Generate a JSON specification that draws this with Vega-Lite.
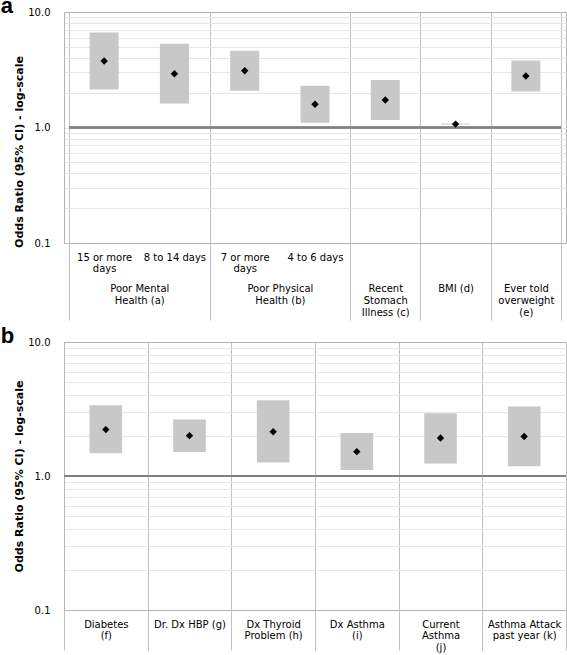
{
  "$schema": "https://vega.github.io/schema/vega-lite/v6.json",
  "padding": {"left": 0, "top": -6, "right": 0, "bottom": 0},
  "spacing": 3,
  "config": {
    "view": {"stroke": "#b4b4b4"},
    "font": "DejaVu Sans",
    "axis": {"labelFont": "DejaVu Sans", "labelFontSize": 10, "labelColor": "#000", "titleFont": "DejaVu Sans", "titleColor": "#000"}
  },
  "datasets": {
    "a": [
      {"order": 1, "group": "Poor Mental Health (a)", "sub": "15 or more days", "or": 3.76, "lo": 2.13, "hi": 6.63},
      {"order": 2, "group": "Poor Mental Health (a)", "sub": "8 to 14 days", "or": 2.92, "lo": 1.61, "hi": 5.30},
      {"order": 3, "group": "Poor Physical Health (b)", "sub": "7 or more days", "or": 3.10, "lo": 2.08, "hi": 4.61},
      {"order": 4, "group": "Poor Physical Health (b)", "sub": "4 to 6 days", "or": 1.59, "lo": 1.10, "hi": 2.30},
      {"order": 5, "group": "Recent Stomach Illness (c)", "sub": "", "or": 1.73, "lo": 1.16, "hi": 2.58},
      {"order": 6, "group": "BMI (d)", "sub": "", "or": 1.07, "lo": 1.062, "hi": 1.082},
      {"order": 7, "group": "Ever told overweight (e)", "sub": "", "or": 2.79, "lo": 2.05, "hi": 3.80}
    ],
    "b": [
      {"label": "Diabetes\n(f)", "or": 2.22, "lo": 1.48, "hi": 3.37},
      {"label": "Dr. Dx HBP (g)", "or": 2.00, "lo": 1.51, "hi": 2.64},
      {"label": "Dx Thyroid\nProblem (h)", "or": 2.14, "lo": 1.26, "hi": 3.67},
      {"label": "Dx Asthma\n(i)", "or": 1.52, "lo": 1.11, "hi": 2.09},
      {"label": "Current\nAsthma\n(j)", "or": 1.92, "lo": 1.24, "hi": 2.94},
      {"label": "Asthma Attack\npast year (k)", "or": 1.97, "lo": 1.18, "hi": 3.30}
    ]
  },
  "vconcat": [
    {
      "title": {"text": "a", "anchor": "start", "frame": "bounds", "font": "Liberation Sans", "fontSize": 22, "fontWeight": "bold", "color": "#000", "offset": -22, "baseline": "alphabetic", "dx": -13, "dy": 6},
      "width": 502,
      "height": 231,
      "data": {"name": "a"},
      "resolve": {"axis": {"x": "independent"}},
      "layer": [
        {
          "mark": {"type": "bar", "width": 29, "color": "#c8c8c8"},
          "encoding": {
            "x": {"field": "order", "type": "quantitative",
              "scale": {"domain": [0.5, 7.5], "nice": false, "zero": false},
              "axis": {"orient": "bottom", "values": [0.5, 2.5, 4.5, 5.5, 6.5, 7.5], "labels": false, "domain": false, "ticks": true, "tickSize": 77, "tickColor": "#c0c0c0", "grid": true, "gridColor": "#c0c0c0", "title": null}},
            "y": {"field": "lo", "type": "quantitative",
              "scale": {"type": "log", "domain": [0.1, 10], "nice": false},
              "axis": {"values": [0.1, 0.2, 0.3, 0.4, 0.5, 0.6, 0.7, 0.8, 0.9, 1, 2, 3, 4, 5, 6, 7, 8, 9, 10],
                "labelExpr": "datum.value == 0.1 || datum.value == 1 || datum.value == 10 ? format(datum.value, '.1f') : ''",
                "labelOverlap": false, "ticks": false, "domainColor": "#b4b4b4", "labelPadding": 14,
                "gridColor": "#e6e6e6",
                "gridOpacity": {"condition": {"test": "datum.value == 10 || datum.value == 0.1", "value": 0}, "value": 1},
                "title": "Odds Ratio (95% CI) - log-scale", "titleFontSize": 11, "titleFontWeight": "bold", "titlePadding": 3, "titleY": 139.5}},
            "y2": {"field": "hi"}
          }
        },
        {
          "mark": {"type": "rule", "color": "#808080", "strokeWidth": 1.5},
          "encoding": {
            "x": {"datum": 0.5, "type": "quantitative",
              "axis": {"orient": "bottom", "values": [1.5, 3.5, 5, 6, 7], "ticks": false, "domain": false, "grid": false, "title": null, "offset": 32,
                "labelExpr": "datum.value == 1.5 ? ['Poor Mental', 'Health (a)'] : datum.value == 3.5 ? ['Poor Physical', 'Health (b)'] : datum.value == 5 ? ['Recent', 'Stomach', 'Illness (c)'] : datum.value == 6 ? 'BMI (d)' : ['Ever told', 'overweight', '(e)']",
                "labelPadding": 8, "labelBaseline": "top", "labelLineHeight": 12.3, "labelOverlap": false, "labelFlush": false, "labelBound": false}},
            "x2": {"datum": 7.5},
            "y": {"datum": 1, "type": "quantitative"}
          }
        },
        {
          "mark": {"type": "point", "shape": "diamond", "filled": true, "color": "#000", "size": 55, "opacity": 1},
          "encoding": {
            "x": {"field": "order", "type": "quantitative",
              "axis": {"orient": "bottom", "values": [1, 2, 3, 4], "ticks": false, "domain": false, "grid": false, "title": null,
                "labelExpr": "datum.value == 1 ? ['15 or more', 'days'] : datum.value == 2 ? '8 to 14 days' : datum.value == 3 ? ['7 or more', 'days'] : '4 to 6 days'",
                "labelPadding": 9, "labelBaseline": "top", "labelLineHeight": 11.6, "labelOverlap": false, "labelFlush": false, "labelBound": false}},
            "y": {"field": "or", "type": "quantitative"}
          }
        }
      ]
    },
    {
      "title": {"text": "b", "anchor": "start", "frame": "bounds", "font": "Liberation Sans", "fontSize": 22, "fontWeight": "bold", "color": "#000", "offset": -22, "baseline": "alphabetic", "dx": -13, "dy": 6},
      "width": 502,
      "height": 268,
      "data": {"name": "b"},
      "layer": [
        {
          "mark": {"type": "bar", "width": {"band": 0.39}, "color": "#c8c8c8"},
          "encoding": {
            "x": {"field": "label", "type": "nominal", "sort": null,
              "scale": {"paddingInner": 0, "paddingOuter": 0},
              "axis": {"orient": "bottom", "tickBand": "extent", "ticks": true, "tickSize": 40, "tickColor": "#c0c0c0", "grid": true, "gridColor": "#c0c0c0", "domain": false, "title": null,
                "labelAngle": 0, "labelExpr": "split(datum.label, '\\n')", "labelPadding": -31, "labelBaseline": "top", "labelLineHeight": 11.5}},
            "y": {"field": "lo", "type": "quantitative",
              "scale": {"type": "log", "domain": [0.1, 10], "nice": false},
              "axis": {"values": [0.1, 0.2, 0.3, 0.4, 0.5, 0.6, 0.7, 0.8, 0.9, 1, 2, 3, 4, 5, 6, 7, 8, 9, 10],
                "labelExpr": "datum.value == 0.1 || datum.value == 1 || datum.value == 10 ? format(datum.value, '.1f') : ''",
                "labelOverlap": false, "ticks": false, "domainColor": "#b4b4b4", "labelPadding": 14,
                "gridColor": "#e6e6e6",
                "gridOpacity": {"condition": {"test": "datum.value == 10 || datum.value == 0.1", "value": 0}, "value": 1},
                "title": "Odds Ratio (95% CI) - log-scale", "titleFontSize": 11, "titleFontWeight": "bold", "titlePadding": 3}},
            "y2": {"field": "hi"}
          }
        },
        {
          "mark": {"type": "rule", "color": "#808080", "strokeWidth": 1.5},
          "encoding": {
            "y": {"datum": 1, "type": "quantitative"}
          }
        },
        {
          "mark": {"type": "point", "shape": "diamond", "filled": true, "color": "#000", "size": 55, "opacity": 1},
          "encoding": {
            "x": {"field": "label", "type": "nominal", "sort": null},
            "y": {"field": "or", "type": "quantitative"}
          }
        }
      ]
    }
  ]
}
